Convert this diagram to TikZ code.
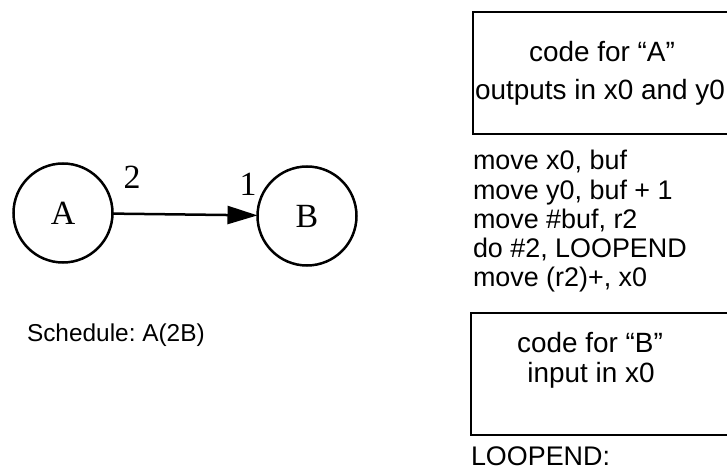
\documentclass[tikz,border=0pt]{standalone}
\usepackage{fontspec}
\setmainfont{Liberation Sans}
\newfontfamily\serifA{Liberation Serif}
\usetikzlibrary{arrows.meta}
\frenchspacing
\begin{document}
\begin{tikzpicture}[x=1bp,y=-1bp,
  every node/.style={inner sep=0pt, outer sep=0pt},
  circ/.style={circle, draw, line width=2.5bp, minimum size=99bp, font=\serifA\fontsize{34}{34}\selectfont},
  lbl/.style={font=\serifA\fontsize{34}{34}\selectfont},
  code/.style={anchor=base west, font=\fontsize{27}{27}\selectfont},
  ctext/.style={anchor=base, font=\fontsize{28}{28}\selectfont},
  box/.style={draw, line width=2.4bp, anchor=north west, rectangle, minimum width=300bp, minimum height=122bp}]
\useasboundingbox (0,0) rectangle (727,473);
\node[circ] (A) at (63,213) {A};
\node[circ] (B) at (307,216) {B};
\draw[line width=2.5bp, -{Triangle[length=30bp,width=18bp]}] (A) -- (B);
\node[lbl] (l2) at (132,177) {2};
\node[lbl] (l1) at (248,184) {1};
\node[code, font=\fontsize{24.5}{24.5}\selectfont] (sched) at (27,342) {Schedule: A(2B)};
\node[box] (boxA) at (473,12) {};
\node[ctext] (ta1) at (602,62) {code for “A”};
\node[ctext] (ta2) at (600,100) {outputs in x0 and y0};
\node[code] (c1) at (473,170) {move x0, buf};
\node[code] (c2) at (473,200) {move y0, buf + 1};
\node[code] (c3) at (473,229) {move \#buf, r2};
\node[code] (c4) at (473,258) {do \#2, LOOPEND};
\node[code] (c5) at (473,287) {move (r2)+, x0};
\node[box] (boxB) at (471,313) {};
\node[ctext] (tb1) at (590,353) {code for “B”};
\node[ctext] (tb2) at (591,382) {input in x0};
\node[code] (lend) at (471,465) {LOOPEND:};
\end{tikzpicture}
\end{document}
